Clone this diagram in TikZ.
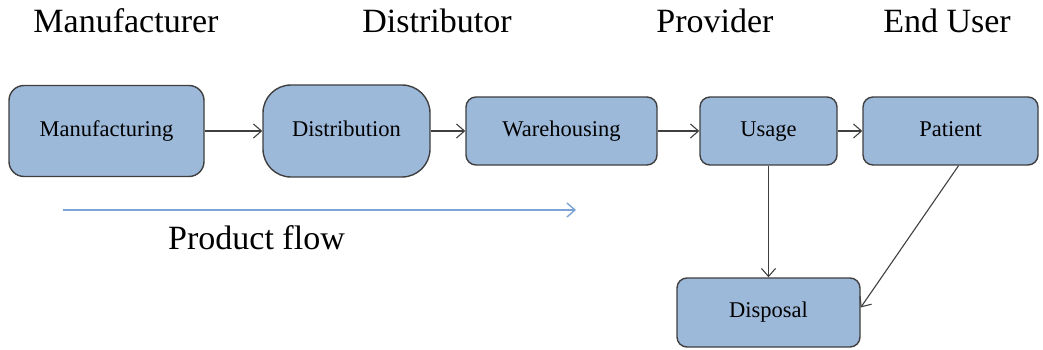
\documentclass[tikz,border=0pt]{standalone}
\usepackage{fontspec}
\setmainfont{LiberationSerif}[Extension=.ttf, UprightFont=*-Regular, BoldFont=*-Bold]
\usetikzlibrary{arrows.meta}
\definecolor{boxblue}{HTML}{9DB9DA}
\definecolor{boxline}{HTML}{3F3F3F}
\definecolor{flowblue}{HTML}{7BA3D5}
\tikzset{
	stage/.style={draw=boxline, line width=1.4pt, fill=boxblue, rounded corners=10pt, minimum height=68pt, align=center, text height=15pt, text depth=5pt, font=\fontsize{22.5}{26}\selectfont},
	role/.style={anchor=base, font=\fontsize{34}{40}\selectfont},
	link/.style={draw=boxline, line width=1.1pt, -{Straight Barb[length=8pt, width=14pt]}}
}
\begin{document}
\begin{tikzpicture}[x=1pt, y=1pt]
		%%%%% START %%%%%
		
		\useasboundingbox (0, 0) rectangle (1043, -350);
		
		\node[role] (manufacturer) at (126, -33) {Manufacturer};
		\node[role] (distributor) at (437, -33) {Distributor};
		\node[role] (provider) at (715, -33) {Provider};
		\node[role] (enduser) at (947, -33) {End User};
		
		\node[stage, rounded corners=15pt, minimum width=195pt, minimum height=91pt] (manufacturing) at (106.5, -131) {Manufacturing};
		\node[stage, rounded corners=28pt, minimum width=167pt, minimum height=92pt] (distribution) at (346.5, -131) {Distribution};
		\node[stage, minimum width=191pt] (warehousing) at (561.5, -131) {Warehousing};
		\node[stage, minimum width=137pt] (usage) at (768.5, -131) {Usage};
		\node[stage, minimum width=175pt] (patient) at (950.5, -131) {Patient};
		\node[stage, minimum width=183pt, minimum height=69pt] (disposal) at (768.5, -312.5) {Disposal};
		
		\draw[link] (manufacturing) -- (distribution);
		\draw[link] (distribution) -- (warehousing);
		\draw[link] (warehousing) -- (usage);
		\draw[link] (usage) -- (patient);
		\draw[link] (usage) -- (disposal);
		\draw[link] ([xshift=8pt]patient.south) -- ([yshift=5pt]disposal.east);
		
		\coordinate (flowstart) at (63, -210);
		\coordinate (flowend) at (576, -210);
		\draw[flowblue, line width=1.4pt, -{Straight Barb[length=8pt, width=14pt]}] (flowstart) -- (flowend);
		\node[role] (productflow) at (256.5, -249) {Product flow};
		
		%%%%% END %%%%%
	\end{tikzpicture}
\end{document}
